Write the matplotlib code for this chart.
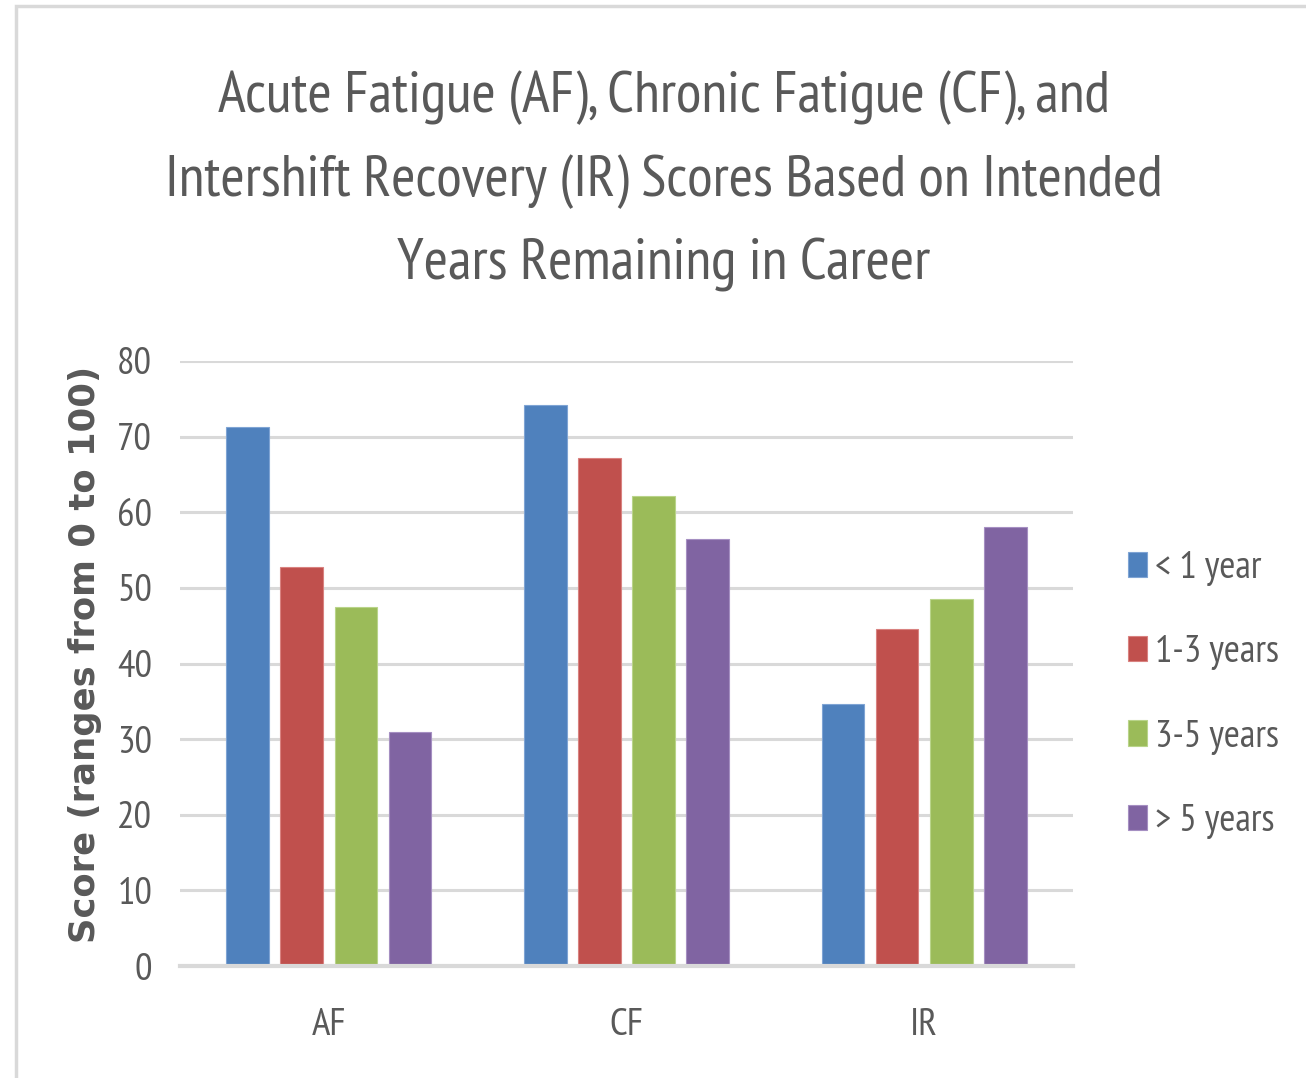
import matplotlib
matplotlib.use("Agg")
import matplotlib.pyplot as plt
from matplotlib.patches import Rectangle
import numpy as np

# ---- data ----
categories = ["AF", "CF", "IR"]
series_names = ["< 1 year", "1-3 years", "3-5 years", "> 5 years"]
less_1_year = [71.3, 74.2, 34.6]
years_1_3 = [52.8, 67.2, 44.6]
years_3_5 = [47.5, 62.1, 48.5]
more_5_years = [31.0, 56.4, 58.0]
yticks = [0, 10, 20, 30, 40, 50, 60, 70, 80]
title_lines = ["Acute Fatigue (AF), Chronic Fatigue (CF), and",
               "Intershift Recovery (IR) Scores Based on Intended",
               "Years Remaining in Career"]
ylabel = "Score (ranges from 0 to 100)"

series = [less_1_year, years_1_3, years_3_5, more_5_years]
colors = ["#4F81BD", "#C0504D", "#9BBB59", "#8064A2"]
edge_colors = ["#7FA4D4", "#D98280", "#B9D48A", "#A58FC2"]

W, H = 1306, 1078
fig = plt.figure(figsize=(W / 100, H / 100), dpi=100)
fig.patch.set_facecolor("white")

FONT = ["PT Sans Narrow", "DejaVu Sans"]
TXT = "#595959"

# outer chart frame (extends beyond right/bottom edges)
fig.patches.append(Rectangle((16 / W, -0.2), 1.3, 1.2 - 6 / H,
                             transform=fig.transFigure, fill=False,
                             edgecolor="#D9D9D9", linewidth=2.5, clip_on=False))

ax = fig.add_axes([180 / W, 1 - 966 / H, (1073 - 180) / W, (966 - 361) / H])
x = np.arange(len(categories))
bw = 0.143
pitch = 0.182
for i, (vals, c, ec, name) in enumerate(zip(series, colors, edge_colors, series_names)):
    ax.bar(x + (i - 1.5) * pitch, vals, width=bw, color=c, edgecolor=ec,
           linewidth=0.8, label=name, zorder=3)

ax.set_xlim(-0.5, len(categories) - 0.5)
ax.set_ylim(0, 80)
ax.set_yticks(yticks)
ax.set_yticklabels([str(t) for t in yticks])
ax.set_xticks(x)
ax.set_xticklabels(categories)
ax.yaxis.grid(True, color="#D9D9D9", linewidth=2.2, zorder=0)
ax.set_axisbelow(True)
for s in ["top", "right", "left"]:
    ax.spines[s].set_visible(False)
ax.spines["bottom"].set_color("#D9D9D9")
ax.spines["bottom"].set_linewidth(3)
ax.spines["bottom"].set_zorder(4)
ax.tick_params(axis="both", length=0, labelsize=28, labelcolor=TXT)
ax.tick_params(axis="y", pad=20)
ax.tick_params(axis="x", pad=30)
for lab in ax.get_xticklabels() + ax.get_yticklabels():
    lab.set_fontfamily(FONT)

# y label (fit its length to the reference)
yl = fig.text(85 / W, 1 - 654 / H, ylabel, rotation=90, ha="center", va="center",
              fontsize=24, color=TXT, family=["DejaVu Sans"], fontweight="bold")
r = fig.canvas.get_renderer()
L = yl.get_window_extent(r).height
yl.set_fontsize(24 * 577 / L)

# title
baselines = [112, 196, 280]
for line, b in zip(title_lines, baselines):
    fig.text(664 / W, 1 - b / H, line, ha="center", va="baseline",
             fontsize=42.3, color=TXT, family=FONT)

# legend
leg = fig.legend(loc="center left", bbox_to_anchor=(1128 / W, 1 - 695 / H),
                 frameon=False, prop={"family": FONT, "size": 28},
                 handlelength=0.5, handleheight=0.62, handletextpad=0.2,
                 labelspacing=1.27, borderpad=0, borderaxespad=0)
for t in leg.get_texts():
    t.set_color(TXT)

fig.savefig("out.png", dpi=100)
